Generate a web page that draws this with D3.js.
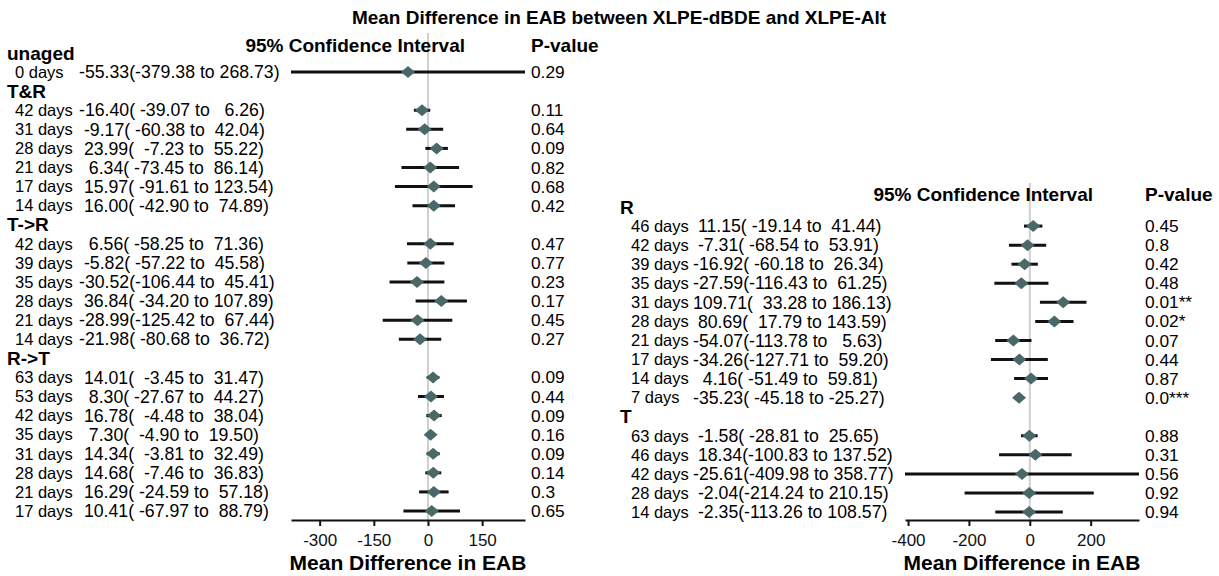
<!DOCTYPE html>
<html>
<head>
  <meta charset="utf-8">
  <title>Mean Difference in EAB between XLPE-dBDE and XLPE-Alt</title>
  <style>
    body { margin: 0; background: #fff; }
    svg text { font-family: "Liberation Sans", Arial, sans-serif; white-space: pre; }
  </style>
</head>
<body>
  <div id="chart"></div>
  <script src="https://cdn.jsdelivr.net/npm/d3@7"></script>
  <script>
    // left panel
    var leftGroups = ["unaged", "T&R", "T->R", "R->T"];
    var leftGroupSize = [1, 6, 6, 8];
    var leftDays = ["0 days",
      "42 days", "31 days", "28 days", "21 days", "17 days", "14 days",
      "42 days", "39 days", "35 days", "28 days", "21 days", "14 days",
      "63 days", "53 days", "42 days", "35 days", "31 days", "28 days", "21 days", "17 days"];
    var leftMean = [-55.33,
      -16.40, -9.17, 23.99, 6.34, 15.97, 16.00,
      6.56, -5.82, -30.52, 36.84, -28.99, -21.98,
      14.01, 8.30, 16.78, 7.30, 14.34, 14.68, 16.29, 10.41];
    var leftLower = [-379.38,
      -39.07, -60.38, -7.23, -73.45, -91.61, -42.90,
      -58.25, -57.22, -106.44, -34.20, -125.42, -80.68,
      -3.45, -27.67, -4.48, -4.90, -3.81, -7.46, -24.59, -67.97];
    var leftUpper = [268.73,
      6.26, 42.04, 55.22, 86.14, 123.54, 74.89,
      71.36, 45.58, 45.41, 107.89, 67.44, 36.72,
      31.47, 44.27, 38.04, 19.50, 32.49, 36.83, 57.18, 88.79];
    var leftP = ["0.29",
      "0.11", "0.64", "0.09", "0.82", "0.68", "0.42",
      "0.47", "0.77", "0.23", "0.17", "0.45", "0.27",
      "0.09", "0.44", "0.09", "0.16", "0.09", "0.14", "0.3", "0.65"];
    var leftTicks = [-300, -150, 0, 150];

    // right panel
    var rightGroups = ["R", "T"];
    var rightGroupSize = [10, 5];
    var rightDays = ["46 days", "42 days", "39 days", "35 days", "31 days", "28 days", "21 days", "17 days", "14 days", "7 days",
      "63 days", "46 days", "42 days", "28 days", "14 days"];
    var rightMean = [11.15, -7.31, -16.92, -27.59, 109.71, 80.69, -54.07, -34.26, 4.16, -35.23,
      -1.58, 18.34, -25.61, -2.04, -2.35];
    var rightLower = [-19.14, -68.54, -60.18, -116.43, 33.28, 17.79, -113.78, -127.71, -51.49, -45.18,
      -28.81, -100.83, -409.98, -214.24, -113.26];
    var rightUpper = [41.44, 53.91, 26.34, 61.25, 186.13, 143.59, 5.63, 59.20, 59.81, -25.27,
      25.65, 137.52, 358.77, 210.15, 108.57];
    var rightP = ["0.45", "0.8", "0.42", "0.48", "0.01**", "0.02*", "0.07", "0.44", "0.87", "0.0***",
      "0.88", "0.31", "0.56", "0.92", "0.94"];
    var rightTicks = [-400, -200, 0, 200];

    var width = 1219, height = 576;

    var svg = d3.select("#chart").append("svg")
      .attr("width", width)
      .attr("height", height);

    svg.append("text")
      .attr("x", 619).attr("y", 24)
      .attr("text-anchor", "middle")
      .style("font-size", "19px").style("font-weight", "bold")
      .text("Mean Difference in EAB between XLPE-dBDE and XLPE-Alt");

    // plain hyphen minus, like the original
    function num(v, w) { return v.toFixed(2).padStart(w); }
    function ciLabel(m, lo, hi) {
      return num(m, 6) + "(" + num(lo, 7) + " to " + num(hi, 6) + ")";
    }

    function drawPanel(p) {
      var g = svg.append("g");

      // build rows: group headers followed by their items
      var rows = [], k = 0;
      p.groups.forEach(function (name, gi) {
        rows.push({ header: name });
        for (var j = 0; j < p.groupSize[gi]; j++, k++) {
          rows.push({ days: p.days[k], mean: p.mean[k], lo: p.lower[k], hi: p.upper[k], pv: p.pv[k] });
        }
      });

      var y = d3.scalePoint().domain(d3.range(rows.length)).range([p.top, p.bottom]);
      var x = d3.scaleLinear()
        .domain([d3.min(p.lower), d3.max(p.upper)])
        .range([p.x0, p.x1]);

      // zero line
      g.append("line")
        .attr("x1", x(0)).attr("x2", x(0))
        .attr("y1", p.zeroTop).attr("y2", p.axisY)
        .style("stroke", "#cfcfcf").style("stroke-width", 2);

      // column headers
      g.append("text")
        .attr("x", p.ciHeadX).attr("y", p.headY).attr("dy", "0.35em")
        .attr("text-anchor", "end")
        .style("font-size", "19px").style("font-weight", "bold")
        .text("95% Confidence Interval");
      g.append("text")
        .attr("x", p.pX).attr("y", p.headY).attr("dy", "0.35em")
        .style("font-size", "19px").style("font-weight", "bold")
        .text("P-value");

      var row = g.selectAll("g.row")
        .data(rows)
        .enter().append("g")
        .attr("class", "row")
        .attr("transform", function (d, i) { return "translate(0," + y(i) + ")"; });

      row.filter(function (d) { return d.header; })
        .append("text")
        .attr("x", p.groupX).attr("dy", "0.35em")
        .style("font-size", "19px").style("font-weight", "bold")
        .text(function (d) { return d.header; });

      var item = row.filter(function (d) { return !d.header; });

      item.append("text")
        .attr("x", p.daysX).attr("dy", "0.35em")
        .style("font-size", "16.5px")
        .text(function (d) { return d.days; });

      item.append("text")
        .attr("x", p.valX).attr("dy", "0.35em")
        .attr("xml:space", "preserve")
        .style("font-size", "17.7px")
        .text(function (d) { return ciLabel(d.mean, d.lo, d.hi); });

      item.append("text")
        .attr("x", p.pX).attr("dy", "0.35em")
        .style("font-size", "17.3px")
        .text(function (d) { return d.pv; });

      item.append("line")
        .attr("x1", function (d) { return x(d.lo); })
        .attr("x2", function (d) { return x(d.hi); })
        .style("stroke", "#111").style("stroke-width", 3);

      item.append("path")
        .attr("d", function (d) {
          var cx = x(d.mean);
          return "M" + (cx - 7) + ",0L" + cx + ",-6L" + (cx + 7) + ",0L" + cx + ",6Z";
        })
        .style("fill", "#4b6868");

      // axis
      var axis = g.append("g")
        .attr("transform", "translate(0," + p.axisY + ")")
        .call(d3.axisBottom(x).tickValues(p.ticks).tickFormat(function (d) { return String(d); })
          .tickSize(6).tickSizeOuter(0).tickPadding(8));
      axis.select(".domain").style("stroke", "#111").style("stroke-width", 2);
      axis.selectAll(".tick line").style("stroke", "#111").style("stroke-width", 2);
      axis.selectAll(".tick text")
        .style("font-family", "Liberation Sans, Arial, sans-serif")
        .style("font-size", "17px").style("fill", "#111");

      g.append("text")
        .attr("x", (p.x0 + p.x1) / 2).attr("y", 563).attr("dy", "0.35em")
        .attr("text-anchor", "middle")
        .style("font-size", "21px").style("font-weight", "bold")
        .text("Mean Difference in EAB");
    }

    drawPanel({
      groups: leftGroups, groupSize: leftGroupSize, days: leftDays,
      mean: leftMean, lower: leftLower, upper: leftUpper, pv: leftP, ticks: leftTicks,
      top: 53, bottom: 511, x0: 291, x1: 525, axisY: 520, zeroTop: 33,
      headY: 45, ciHeadX: 465, pX: 531, groupX: 7, daysX: 15, valX: 79
    });

    drawPanel({
      groups: rightGroups, groupSize: rightGroupSize, days: rightDays,
      mean: rightMean, lower: rightLower, upper: rightUpper, pv: rightP, ticks: rightTicks,
      top: 207, bottom: 512, x0: 905, x1: 1139, axisY: 520, zeroTop: 183,
      headY: 194, ciHeadX: 1093, pX: 1145, groupX: 620, daysX: 631, valX: 693
    });
  </script>
</body>
</html>
